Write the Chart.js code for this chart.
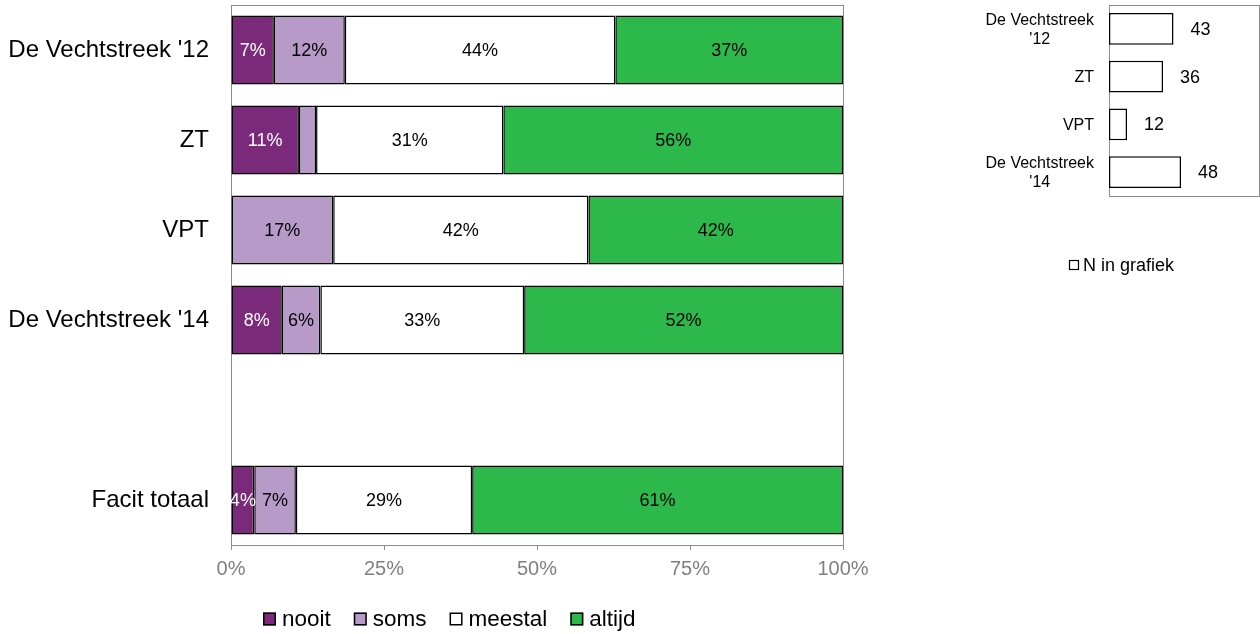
<!DOCTYPE html>
<html>
<head>
<meta charset="utf-8">
<script src="https://cdn.jsdelivr.net/npm/chart.js@4"></script>
<style>
  body { margin: 0; background: #fff; }
  #wrap { position: relative; width: 1260px; height: 634px; }
  #mainBox { position: absolute; left: 0; top: 0; width: 880px; height: 634px; }
  #nBox { position: absolute; left: 960px; top: 0; width: 300px; height: 290px; }
</style>
</head>
<body>
<div id="wrap">
  <div id="mainBox"><canvas id="mainChart"></canvas></div>
  <div id="nBox"><canvas id="nChart"></canvas></div>
</div>
<script>
'use strict';

// DATA
// ====
var categories = ["De Vechtstreek '12", "ZT", "VPT", "De Vechtstreek '14", "", "Facit totaal"];
var nooit   = [7.0, 11.1, 0,    8.3,  null, 3.8];
var soms    = [11.6, 2.8, 16.7, 6.3,  null, 6.8];
var meestal = [44.2, 30.6, 41.7, 33.3, null, 28.8];
var altijd  = [37.2, 55.5, 41.6, 52.1, null, 60.6];
var xTicks  = [0, 25, 50, 75, 100];

var nCategories = [["De Vechtstreek", "'12"], ["ZT"], ["VPT"], ["De Vechtstreek", "'14"]];
var nValues = [43, 36, 12, 48];

var FONT = "'Liberation Sans', Arial, sans-serif";
Chart.defaults.font.family = FONT;
Chart.defaults.animation = false;

function noPad(s) {
    s.paddingTop = 0; s.paddingBottom = 0; s.paddingLeft = 0; s.paddingRight = 0;
}

// PLUGINS
// =======
var plotBorder = {
    id: 'plotBorder',
    beforeDatasetsDraw: function (chart) {
        var a = chart.chartArea, ctx = chart.ctx;
        ctx.save();
        ctx.strokeStyle = '#8c8c8c';
        ctx.lineWidth = 1;
        ctx.strokeRect(a.left + 0.5, a.top + 0.5, a.right - a.left, a.bottom - a.top);
        ctx.restore();
    }
};

var pctLabels = {
    id: 'pctLabels',
    afterDatasetsDraw: function (chart) {
        var ctx = chart.ctx;
        ctx.save();
        ctx.font = '18px ' + FONT;
        ctx.textAlign = 'center';
        ctx.textBaseline = 'middle';
        chart.data.datasets.forEach(function (ds, di) {
            var meta = chart.getDatasetMeta(di);
            meta.data.forEach(function (bar, i) {
                var v = ds.data[i];
                if (v == null || v < 3.5) return;
                ctx.fillStyle = di === 0 ? '#ffffff' : '#000000';
                ctx.fillText(Math.round(v) + '%', (bar.x + bar.base) / 2, bar.y + 1);
            });
        });
        ctx.restore();
    }
};

// Excel-like legend: small bordered squares, tight text spacing
var mainLegend = {
    id: 'mainLegend',
    afterDraw: function (chart) {
        var ctx = chart.ctx;
        var x = 263, y = 619;
        ctx.save();
        ctx.font = '22.5px ' + FONT;
        ctx.textBaseline = 'middle';
        ctx.textAlign = 'left';
        chart.data.datasets.forEach(function (ds) {
            ctx.fillStyle = ds.backgroundColor;
            ctx.fillRect(x, y - 6.5, 13, 13);
            ctx.strokeStyle = '#000';
            ctx.lineWidth = 1.5;
            ctx.strokeRect(x + 0.75, y - 5.75, 11.5, 11.5);
            ctx.fillStyle = '#000';
            ctx.fillText(ds.label, x + 19, y + 1);
            x += 19 + ctx.measureText(ds.label).width + 23;
        });
        ctx.restore();
    }
};

var nLabels = {
    id: 'nLabels',
    afterDatasetsDraw: function (chart) {
        var ctx = chart.ctx;
        ctx.save();
        ctx.font = '18px ' + FONT;
        ctx.textAlign = 'left';
        ctx.textBaseline = 'middle';
        ctx.fillStyle = '#000';
        var meta = chart.getDatasetMeta(0);
        meta.data.forEach(function (bar, i) {
            ctx.fillText(String(nValues[i]), bar.x + 17, bar.y + 1);
        });
        ctx.restore();
    }
};

// category labels: block right-aligned, lines centred on each other
var nCatLabels = {
    id: 'nCatLabels',
    afterDraw: function (chart) {
        var ctx = chart.ctx, scale = chart.scales.y;
        var right = scale.right - 15, lh = 19;
        ctx.save();
        ctx.font = '16px ' + FONT;
        ctx.textBaseline = 'middle';
        ctx.textAlign = 'center';
        ctx.fillStyle = '#000';
        nCategories.forEach(function (lines, i) {
            var y = scale.getPixelForTick(i);
            var w = Math.max.apply(null, lines.map(function (t) { return ctx.measureText(t).width; }));
            var cx = right - w / 2;
            var y0 = y - (lines.length - 1) * lh / 2;
            lines.forEach(function (t, k) { ctx.fillText(t, cx, y0 + k * lh + 1); });
        });
        // legend
        ctx.strokeStyle = '#000';
        ctx.lineWidth = 1.2;
        ctx.strokeRect(1069.5 - 960, 260.5, 9, 9);
        ctx.fillStyle = '#000';
        ctx.font = '18px ' + FONT;
        ctx.textAlign = 'left';
        ctx.fillText(chart.data.datasets[0].label, 1083 - 960, 266);
        ctx.restore();
    }
};

function mkSet(label, data, color) {
    return {
        label: label,
        data: data,
        backgroundColor: color,
        borderColor: '#000000',
        borderWidth: 1.5,
        borderSkipped: false,
        barPercentage: 0.767,
        categoryPercentage: 1.0
    };
}

// MAIN CHART
// ==========
new Chart(document.getElementById('mainChart'), {
    type: 'bar',
    data: {
        labels: categories,
        datasets: [
            mkSet('nooit', nooit, '#7b297b'),
            mkSet('soms', soms, '#b89ac9'),
            mkSet('meestal', meestal, '#ffffff'),
            mkSet('altijd', altijd, '#2db84b')
        ]
    },
    options: {
        indexAxis: 'y',
        responsive: true,
        maintainAspectRatio: false,
        layout: { padding: { top: 5, right: 37, left: 0, bottom: 0 } },
        scales: {
            x: {
                stacked: true,
                min: 0,
                max: 100,
                afterBuildTicks: function (s) { s.ticks = xTicks.map(function (v) { return { value: v }; }); },
                afterFit: function (s) { s.height = 89; noPad(s); },
                ticks: {
                    color: '#808080',
                    font: { size: 20 },
                    padding: 7,
                    callback: function (v) { return v + '%'; }
                },
                grid: { drawOnChartArea: false, tickLength: 5, color: '#8c8c8c' },
                border: { color: '#8c8c8c' }
            },
            y: {
                stacked: true,
                afterFit: function (s) { s.width = 231; noPad(s); },
                ticks: { color: '#000', font: { size: 24 }, padding: 22 },
                grid: { display: false, drawTicks: false },
                border: { color: '#8c8c8c' }
            }
        },
        plugins: {
            legend: { display: false },
            tooltip: { enabled: false }
        }
    },
    plugins: [plotBorder, pctLabels, mainLegend]
});

// N CHART
// =======
new Chart(document.getElementById('nChart'), {
    type: 'bar',
    data: {
        labels: nCategories.map(function (l) { return l.join(' '); }),
        datasets: [{
            label: 'N in grafiek',
            data: nValues,
            backgroundColor: '#ffffff',
            borderColor: '#000000',
            borderWidth: 1.5,
            borderSkipped: false,
            barPercentage: 0.67,
            categoryPercentage: 1.0
        }]
    },
    options: {
        indexAxis: 'y',
        responsive: true,
        maintainAspectRatio: false,
        layout: { padding: { top: 5, right: 1, left: 0, bottom: 0 } },
        scales: {
            x: {
                min: 0,
                max: 100,
                afterFit: function (s) { s.height = 94; noPad(s); },
                ticks: { display: false },
                grid: { display: false },
                border: { display: false }
            },
            y: {
                afterFit: function (s) { s.width = 149; noPad(s); },
                ticks: { display: false },
                grid: { display: false, drawTicks: false },
                border: { display: false }
            }
        },
        plugins: {
            legend: { display: false },
            tooltip: { enabled: false }
        }
    },
    plugins: [plotBorder, nLabels, nCatLabels]
});
</script>
</body>
</html>
